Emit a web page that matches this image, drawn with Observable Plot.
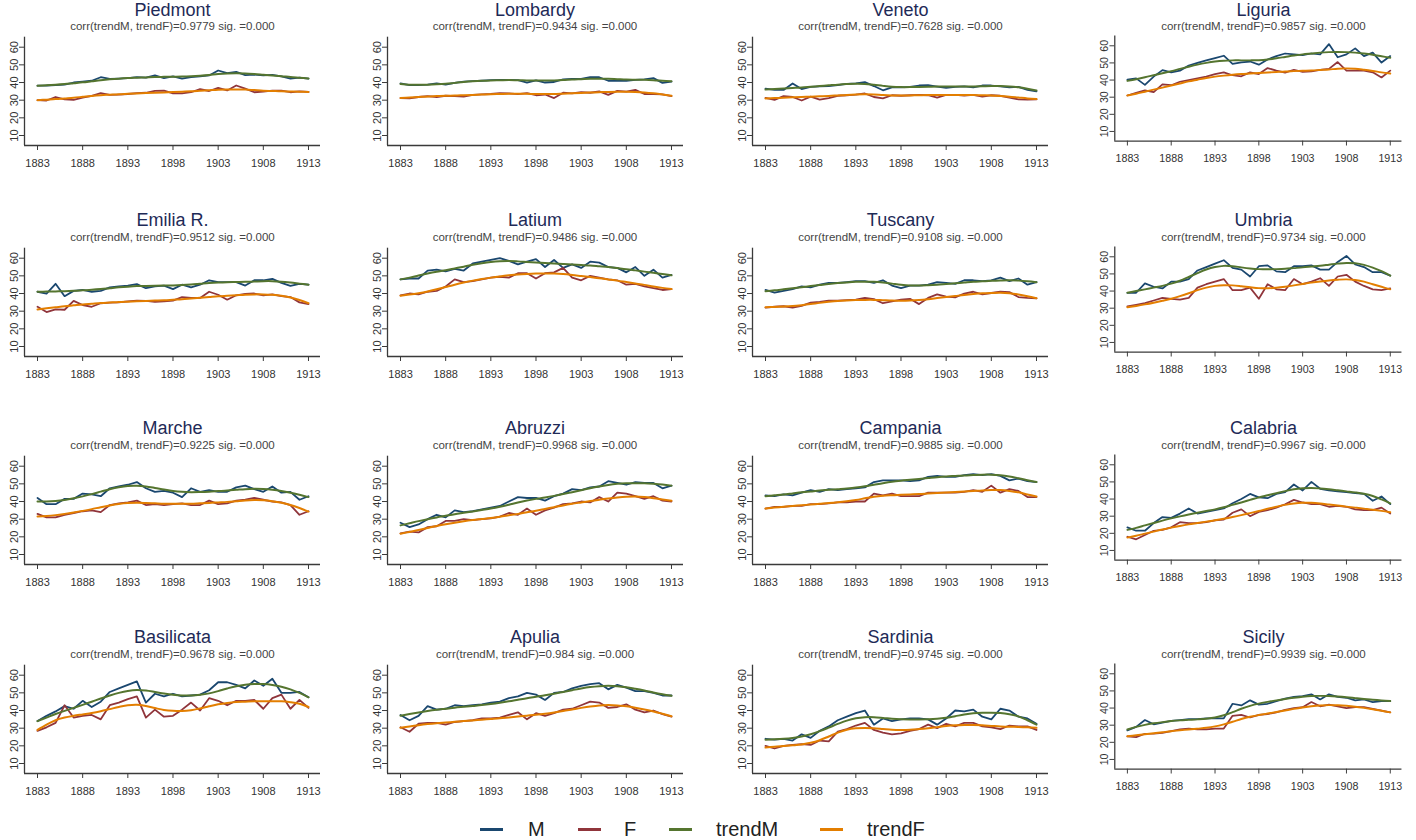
<!DOCTYPE html>
<html><head><meta charset="utf-8">
<script src="https://cdn.jsdelivr.net/npm/d3@7"></script>
<script src="https://cdn.jsdelivr.net/npm/@observablehq/plot@0.6"></script>
<style>
body{margin:0;background:#fff;font-family:"Liberation Sans",Arial,Helvetica,sans-serif}
#root{position:relative;width:1416px;height:840px;overflow:hidden;background:#fff}
.title{position:absolute;text-align:center;font-size:18px;line-height:20px;color:#1e2a57;white-space:nowrap}
.sub{position:absolute;text-align:center;font-size:11.5px;line-height:11.5px;color:#444;white-space:nowrap}
.panel{position:absolute}
.sw{position:absolute;height:3px}
.lt{position:absolute;font-size:20px;line-height:20px;color:#222;white-space:nowrap}
</style></head><body><div id="root"></div><script>
const years = [1883,1884,1885,1886,1887,1888,1889,1890,1891,1892,1893,1894,1895,1896,1897,1898,1899,1900,1901,1902,1903,1904,1905,1906,1907,1908,1909,1910,1911,1912,1913];
const xTicks = [1883,1888,1893,1898,1903,1908,1913];
const yTicks = [10,20,30,40,50,60];
const seriesNames = ["M","F","trendM","trendF"];
const seriesColors = ["#1a476f","#90353b","#55752f","#e37e00"];
const regions = ["Piedmont","Lombardy","Veneto","Liguria","Emilia R.","Latium","Tuscany","Umbria","Marche","Abruzzi","Campania","Calabria","Basilicata","Apulia","Sardinia","Sicily"];
const correlations = ["0.9779","0.9434","0.7628","0.9857","0.9512","0.9486","0.9108","0.9734","0.9225","0.9968","0.9885","0.9967","0.9678","0.984","0.9745","0.9939"];

const piedmontM = [38.2,38.3,38.6,38.8,40,40.5,41,43,42,42.2,42.5,43,42.8,44,42.5,43.5,42.2,43,43.5,44,46.8,45.3,46,44.2,44.5,44,44.3,43.5,42.2,42.8,42.2];
const piedmontF = [30,29.8,31.8,30.5,30.2,31.5,32.5,34,33,33.2,33.5,34,34.2,35.3,35.4,33.8,33.8,34.5,36.3,35.2,37,35.5,38.3,36.5,34.5,34.8,35.4,35.4,34.5,35,34.7];
const piedmontTrendM = [38.2,38.4,38.7,39.1,39.6,40.1,40.7,41.3,41.8,42.2,42.5,42.7,42.9,43.1,43.2,43.3,43.4,43.6,43.9,44.3,44.8,45.1,45.2,45.1,44.8,44.4,44,43.6,43.1,42.7,42.3];
const piedmontTrendF = [30,30.3,30.6,31,31.4,31.9,32.4,32.8,33.1,33.4,33.6,33.8,34,34.2,34.4,34.6,34.8,35,35.3,35.6,35.9,36.1,36.1,36,35.7,35.4,35.2,35,34.9,34.8,34.7];

const lombardyM = [39.5,38.5,38.6,38.8,39.5,38.8,39.8,40.5,40.8,41,41.3,41.5,41.5,41.3,40,41.2,40,40.3,41.8,42,42,43,43,41,41,41,41.5,41.8,42.5,39.8,40.5];
const lombardyF = [31.2,31,31.8,32.3,31.8,32.5,32.3,32,33,33.3,33.5,34,33.8,33.4,34,32.8,33.2,31.2,34.2,33.8,34.6,34.2,35,33,35.3,34.8,35.8,33.5,33.5,33.3,32.3];
const lombardyTrendM = [39.2,38.8,38.7,38.8,39,39.3,39.8,40.3,40.7,41,41.2,41.3,41.4,41.3,41.2,41.1,41.1,41.2,41.4,41.7,41.9,42.1,42.2,42.1,41.9,41.7,41.6,41.5,41.3,41,40.7];
const lombardyTrendF = [31.2,31.5,31.8,32.1,32.3,32.5,32.6,32.8,33,33.2,33.4,33.5,33.6,33.6,33.6,33.5,33.5,33.5,33.7,33.9,34.1,34.3,34.5,34.7,34.8,34.8,34.7,34.4,33.9,33.2,32.5];

const venetoM = [36.5,35.8,35.8,39.5,36.3,37.5,37.8,38,38.5,39.2,39.5,40.2,38,35.6,37.2,37.3,37.5,38.3,38.5,37.7,37,37.5,37.8,37.2,38.3,38.3,37.8,37.2,37.5,35.8,35];
const venetoF = [31.3,30.2,32.3,31.8,29.8,32,30.3,31.2,32.5,32.8,33.2,33.8,31.8,31,32.8,32.5,32.8,33,32.8,31.5,33,33,32.6,33,32,32.8,32.5,31.5,30.5,30.3,30.5];
const venetoTrendM = [36,36.3,36.6,36.9,37.2,37.6,38,38.4,38.8,39.1,39.3,39.2,38.7,38.1,37.6,37.4,37.4,37.5,37.6,37.7,37.7,37.7,37.7,37.8,37.9,38,38,37.8,37.3,36.5,35.5];
const venetoTrendF = [31,31.2,31.4,31.6,31.8,32,32.2,32.4,32.7,33,33.2,33.3,33.2,32.9,32.7,32.6,32.7,32.8,32.9,32.9,32.9,32.9,32.9,32.9,32.8,32.7,32.4,32,31.5,31,30.6];

const liguriaM = [40.3,41,37.2,42,45.8,44.5,45.5,48.5,50,51.5,52.8,54.2,49.5,50.3,50.8,49,52,54,55.5,55,54.5,55.5,55,61,53.3,55,58.5,54,56,50.2,54];
const liguriaF = [31,32.5,34,33,37.5,37,39,40,41,42,43.5,44.5,42.8,42.2,44.5,43.5,47,45.5,44.3,46,44.8,45,46,46.5,50.5,45.5,45.5,45.5,44.5,41.5,45.5];
const liguriaTrendM = [39.5,40.5,41.6,42.8,44,45.2,46.5,47.8,49,50,50.8,51.3,51.5,51.5,51.5,51.6,52,52.7,53.5,54.3,55,55.5,56,56.3,56.4,56.3,56,55.5,54.8,53.9,53];
const liguriaTrendF = [31,32,33.2,34.4,35.6,36.8,38,39.2,40.2,41.2,42,42.6,43.1,43.5,43.8,44.1,44.4,44.7,45,45.2,45.4,45.6,45.9,46.2,46.6,46.8,46.6,46,45.3,44.5,43.8];

const emiliaM = [41,40,45.5,38.5,41.5,42,41,41.5,43.5,44,44.5,45.3,43,44,44.5,42.5,45,43.5,45,47.5,46.5,46.5,46.5,44.5,47.5,47.5,48.3,46,44.3,45.5,45];
const emiliaF = [32.5,29.5,31,30.8,35.8,33.5,32.5,34.5,34.8,35,35.5,36,35.8,35.3,35.5,36,38,37.5,37.5,41,39.3,36.5,39,39.8,40,39,39.5,38.5,38,35,34];
const emiliaTrendM = [41,41.1,41.2,41.3,41.5,41.8,42.1,42.5,43,43.5,43.9,44.2,44.3,44.4,44.5,44.6,44.8,45.1,45.5,45.9,46.2,46.4,46.5,46.6,46.8,47,47,46.7,46.2,45.6,45];
const emiliaTrendF = [31,31.6,32.2,32.8,33.3,33.8,34.2,34.6,34.9,35.2,35.4,35.6,35.8,36,36.2,36.5,36.8,37.2,37.6,38,38.4,38.7,39,39.3,39.5,39.5,39.3,38.8,37.8,36.3,34.5];

const latiumM = [48,48.5,48.5,53,53.5,52.5,54,53,57,58,59,60,58.5,56.5,58,59.5,55,59,54.5,56.5,54.5,58,57.5,55,54.5,52,55,50,53.5,49,50.5];
const latiumF = [39,40,39.5,41,41.5,44,48,46.5,47,48,49,49.5,49,51.5,51.5,48.5,51.5,52,54.5,49,47.5,50,49,48,47.5,45,45.5,44,43,42,42.5];
const latiumTrendM = [48,49,50.2,51.3,52.3,53.2,54.2,55.2,56.3,57.2,57.9,58.3,58.4,58.2,57.9,57.6,57.3,57,56.7,56.4,56.1,55.8,55.4,55,54.4,53.8,53.1,52.4,51.7,51,50.3];
const latiumTrendF = [38.8,39.4,40.2,41.2,42.4,43.7,45,46.2,47.3,48.2,49,49.7,50.3,50.8,51.1,51.3,51.4,51.3,51,50.5,49.9,49.3,48.7,48,47.3,46.5,45.7,44.9,44,43.2,42.5];

const tuscanyM = [42,40.5,41.5,42.5,44,43.5,45,46,46,46.5,47,47,46,47.5,44.5,43,44.5,44.5,45,46.5,46,45.5,47.5,47.5,47,47.5,49,47,48.5,45,46.5];
const tuscanyF = [32,32.5,32.8,32,33,34.8,35.3,36,36,36.3,36.5,37.5,36.8,34.5,35.5,36.5,37,34,37.5,39.5,38.3,37.8,40,41,39.5,40.3,41,40.8,38,37.5,37.3];
const tuscanyTrendM = [41.3,41.8,42.4,43,43.6,44.2,44.8,45.4,45.9,46.3,46.6,46.7,46.6,46.2,45.6,45,44.6,44.5,44.7,45,45.4,45.8,46.2,46.6,46.9,47.2,47.4,47.5,47.3,46.9,46.4];
const tuscanyTrendF = [32.2,32.4,32.6,32.9,33.4,34,34.7,35.3,35.8,36.1,36.3,36.4,36.4,36.2,36,35.9,36,36.3,36.8,37.4,38,38.6,39.2,39.7,40.1,40.3,40.4,40.2,39.5,38.5,37.3];

const umbriaM = [39,39,44.5,42.5,41.5,45.5,45.5,47,52,54,56,58,53.5,52.5,48.5,54.5,55,51.5,51,54.5,54.5,55,52.5,52.5,57,60.5,55.5,54,51,51,49];
const umbriaF = [31,32,33,34.5,36,35.5,35,36,42,44,45.5,47,40.5,40.5,42,35.5,44,41,40.5,47,44,45.5,47.5,43,48.5,49.5,45.5,43,41,40.5,41.5];
const umbriaTrendM = [39,40,41,42,43,44.3,46,48.2,50.5,52.6,54,54.7,54.5,53.8,53.2,52.8,52.7,52.8,53,53.4,53.8,54.3,54.8,55.4,56,56.4,56.2,55.3,53.7,51.6,49];
const umbriaTrendF = [30.5,31.3,32.2,33.2,34.3,35.5,37,38.7,40.5,42,43,43.4,43.3,42.8,42.2,41.7,41.6,41.9,42.5,43.3,44.1,44.9,45.6,46.2,46.6,46.8,46.4,45.5,44,42.5,41];

const marcheM = [42,38.5,38.5,41.5,41.5,44.5,44,43,47.5,48.5,49.5,51,47.5,45.5,46,45,42.5,47.5,45.5,46.5,45.5,45.5,48,49,47,45.5,48.5,45,45.5,41,43];
const marcheF = [33,31,31,32.5,33.5,34.5,35,34,38,39,39.5,40.5,38,38.5,38,38.5,39,38,38,40.5,38.5,39,40.5,41,42,41,40,39.5,38,32.5,34.5];
const marcheTrendM = [40,40,40.3,40.9,41.8,42.9,44.2,45.6,47,48.1,48.8,48.9,48.5,47.7,46.8,46,45.5,45.3,45.4,45.6,45.9,46.2,46.6,47,47.2,47.1,46.7,46,45,43.8,42.5];
const marcheTrendF = [31.5,31.8,32.3,33,33.8,34.7,35.7,36.8,37.8,38.6,39.1,39.3,39.2,39,38.8,38.7,38.7,38.8,39,39.2,39.5,39.8,40.2,40.6,40.8,40.7,40.2,39.3,38,36.3,34.3];

const abruzziM = [28,25.5,27,30,32.5,31,35,34,34.5,35.5,36.5,37.5,40,42.5,42,42,40.5,43,44.5,47,46.5,48,48.5,51.5,50.5,49.5,51,50.5,50.5,47.5,49];
const abruzziF = [22,23,22.5,25.5,26,29,29,30,29.5,30,30.5,31.5,33.5,32.5,36,32.5,35,36.5,38.5,39,40,39.5,42.5,40,45,44.5,43,41.5,43,40.5,40];
const abruzziTrendM = [26.5,27.7,28.9,30,31,31.9,32.8,33.6,34.4,35.2,36,37,38.2,39.5,40.6,41.5,42.3,43.2,44.2,45.3,46.4,47.5,48.5,49.4,50,50.3,50.4,50.3,50,49.6,49];
const abruzziTrendF = [21.8,22.8,23.9,25,26.1,27.1,28,28.8,29.5,30.1,30.7,31.4,32.2,33,33.9,34.8,35.8,36.8,37.8,38.7,39.5,40.3,41,41.7,42.3,42.7,42.8,42.5,41.9,41.2,40.5];

const campaniaM = [43.5,43,44,43.5,45,46.5,45.5,47,46.5,47,47.5,48,51,52,52,52,51.5,52,54,54.5,54,54,55,55.5,55,55.5,54.5,52,53,51.5,51];
const campaniaF = [36,37,37,37.5,37.5,38.5,38.5,39,39.5,39.5,40,40,44.5,43.5,44.5,43,43,43,45,45,45,45,45.5,46.5,45.5,49,45,47,46,42.5,42.5];
const campaniaTrendM = [43,43.5,44,44.6,45.2,45.7,46.2,46.6,47,47.4,47.9,48.6,49.5,50.4,51.2,51.8,52.3,52.8,53.3,53.8,54.2,54.5,54.8,55,55.2,55.2,54.9,54.2,53.2,52.1,51];
const campaniaTrendF = [36,36.6,37.1,37.5,37.9,38.3,38.7,39.1,39.6,40.2,40.9,41.8,42.7,43.3,43.6,43.8,44,44.2,44.5,44.8,45.1,45.4,45.7,46,46.3,46.5,46.5,46,45.2,44,42.8];

const calabriaM = [23.5,21.5,21.5,26,29.5,29,31.5,34.5,31.5,32.5,33.5,34.5,37.5,40,43,41,40.5,43,44,48.5,45,50,46,45,44.5,44,43.5,43,39,41.5,37];
const calabriaF = [18,16.5,19,21.5,22,23.5,26.5,26,26,26.5,27.5,28,32,34,30,32.5,33.5,35,37,39.5,38,37,37,35.5,36,35.5,34,33.5,33.5,35,31.5];
const calabriaTrendM = [22,23.2,24.6,26,27.4,28.7,29.9,31,32,33,34,35.2,36.6,38,39.5,41,42.2,43.4,44.6,45.7,46.3,46.5,46.2,45.7,45.1,44.5,43.9,43.1,41.8,39.8,37.5];
const calabriaTrendF = [17.5,18.6,19.8,21,22.2,23.3,24.3,25.2,26,26.8,27.6,28.5,29.5,30.6,31.8,33,34.3,35.5,36.6,37.4,37.8,37.8,37.4,36.8,36.2,35.6,35,34.4,33.8,33.1,32.3];

const basilicataM = [34,37,39.5,42.5,41,45.5,42,45,50.5,52.5,54.5,56.5,44.5,49.5,48,49.5,48,48.5,49,51.5,56,56,54.5,52.5,57,54,58,50,50,50.5,47.5];
const basilicataF = [28.5,30.5,33,43,36,37,37.5,35,43,44.5,46.5,48,36,40.5,36.5,37,40.5,44.5,40,47,45.5,43,45.5,45.5,46,41,47,49,41,46,41.5];
const basilicataTrendM = [34,36,38,39.8,41.5,43.2,45,46.8,48.5,50,51.1,51.6,51.3,50.5,49.6,48.9,48.5,48.5,48.9,49.7,51,52.5,53.8,54.6,55,55,54.5,53.5,52,50,47.5];
const basilicataTrendF = [29,32,34.5,36,37,37.8,38.6,39.6,40.8,42,43,43.3,42.6,41.4,40.3,39.8,39.7,40.2,41.2,42.4,43.5,44.3,44.8,45,45.2,45.3,45.3,45.2,44.7,43.8,42];

const apuliaM = [37.5,34.5,37,42.5,40.5,41,43,42.5,43,43.5,44.5,45,47,48,50,49,46,50,50.5,52.5,54,55,55.5,52,54.5,53,51,51,50,48.5,48.5];
const apuliaF = [30.5,28,32.5,33,33,32,33.5,34,34.5,35.5,35.5,36,37.5,39,35,38.5,37,38.5,40.5,41,43,45,44.5,41.5,42,43.5,40.5,39,40,38,36.5];
const apuliaTrendM = [37,38,38.9,39.7,40.4,41,41.6,42.1,42.6,43.1,43.7,44.4,45.2,46.1,47,47.8,48.6,49.5,50.5,51.5,52.5,53.3,53.8,54,53.8,53.2,52.3,51.3,50.2,49.2,48.3];
const apuliaTrendF = [30.2,31,31.7,32.3,32.8,33.2,33.6,34,34.4,34.8,35.2,35.6,36.1,36.6,37.1,37.6,38.2,38.9,39.7,40.6,41.5,42.3,42.9,43.1,42.9,42.4,41.6,40.6,39.5,38.2,36.8];

const sardiniaM = [24,23.5,24,23,26.5,24.5,28.5,31,34.5,36.5,38.5,40,32,35.5,34,35,35.5,35.5,35,32,35.5,40,39.5,40.5,36.5,35,41,40,36.5,35.5,32.5];
const sardiniaF = [20,18.5,20,20.5,21,20.5,23,22.5,28,29.5,31.5,33,29,27.5,26.5,27,28.5,29.5,32,30,32.5,31,33,33,31,30.5,29.5,31.5,31,31,29];
const sardiniaTrendM = [23.5,23.7,24,24.5,25.3,26.6,28.3,30.3,32.4,34.3,35.6,36.2,36.2,35.8,35.3,35,34.9,34.9,35,35.3,35.9,36.8,37.7,38.4,38.7,38.8,38.6,37.9,36.7,34.5,32];
const sardiniaTrendF = [19,19.5,19.9,20.3,20.8,21.7,23.2,25.3,27.5,29.1,29.9,30.1,29.9,29.5,29.1,29,29.1,29.5,30,30.6,31.2,31.6,31.8,31.8,31.6,31.3,31,30.8,30.7,30.5,30.2];

const sicilyM = [27,29,33,30.5,31.5,32.5,33,33.5,33.5,34,34,34,42.5,41.5,44.5,42,42.5,44,45.5,46.5,47,48,45,48,46.5,46,44.5,45,43.5,44,44];
const sicilyF = [23.5,23,25,25,25.5,26.5,27.5,28,27.5,27.5,28,28,35.5,36,34.5,36,36.5,37.5,39,40,40.5,43.5,41,42,41,40,40.5,40.5,39.5,38.5,37.5];
const sicilyTrendM = [27.5,29,30.2,31.1,31.8,32.4,32.8,33.1,33.4,33.8,34.5,35.8,37.6,39.6,41.3,42.6,43.6,44.5,45.3,46,46.6,47,47.1,47,46.7,46.3,45.8,45.3,44.8,44.4,44.1];
const sicilyTrendF = [23.5,24.1,24.7,25.3,25.9,26.5,27,27.5,28,28.5,29.3,30.5,32,33.6,34.9,35.9,36.8,37.7,38.6,39.5,40.3,41,41.5,41.7,41.6,41.3,40.8,40.1,39.3,38.4,37.5];

const regionSeries = [
  [piedmontM, piedmontF, piedmontTrendM, piedmontTrendF],
  [lombardyM, lombardyF, lombardyTrendM, lombardyTrendF],
  [venetoM, venetoF, venetoTrendM, venetoTrendF],
  [liguriaM, liguriaF, liguriaTrendM, liguriaTrendF],
  [emiliaM, emiliaF, emiliaTrendM, emiliaTrendF],
  [latiumM, latiumF, latiumTrendM, latiumTrendF],
  [tuscanyM, tuscanyF, tuscanyTrendM, tuscanyTrendF],
  [umbriaM, umbriaF, umbriaTrendM, umbriaTrendF],
  [marcheM, marcheF, marcheTrendM, marcheTrendF],
  [abruzziM, abruzziF, abruzziTrendM, abruzziTrendF],
  [campaniaM, campaniaF, campaniaTrendM, campaniaTrendF],
  [calabriaM, calabriaF, calabriaTrendM, calabriaTrendF],
  [basilicataM, basilicataF, basilicataTrendM, basilicataTrendF],
  [apuliaM, apuliaF, apuliaTrendM, apuliaTrendF],
  [sardiniaM, sardiniaF, sardiniaTrendM, sardiniaTrendF],
  [sicilyM, sicilyF, sicilyTrendM, sicilyTrendF]
];

const root = document.getElementById("root");
const colX = [0, 362.5, 728, 1091];
const rowY = [0, 210.5, 418.5, 627.5];
const xDom = [1881.56, 1914.33];
const yDom = [4.34, 65.66];

regions.forEach((name, idx) => {
  const c = idx % 4, r = Math.floor(idx / 4);
  const left = colX[c], top = rowY[r];
  const t = document.createElement("div");
  t.className = "title";
  t.style.left = left + "px"; t.style.top = Math.max(0, top - 1) + "px"; t.style.width = "345px";
  t.textContent = name;
  root.appendChild(t);
  const s = document.createElement("div");
  s.className = "sub";
  s.style.left = left + "px"; s.style.top = (top + 21) + "px"; s.style.width = "345px";
  s.textContent = `corr(trendM, trendF)=${correlations[idx]} sig. =0.000`;
  root.appendChild(s);

  const arrs = regionSeries[idx];
  const data = [];
  seriesNames.forEach((sn, j) => {
    years.forEach((yr, i) => data.push({year: yr, value: arrs[j][i], series: sn}));
  });

  const chart = Plot.plot({
    width: 335, height: 175,
    marginLeft: 24, marginRight: 15, marginTop: 36.7, marginBottom: 30,
    x: {domain: xDom, label: null},
    y: {domain: yDom, label: null},
    color: {domain: seriesNames, range: seriesColors},
    style: {fontFamily: '"Liberation Sans", Arial, sans-serif', fontSize: "11px", color: "#333", background: "transparent", overflow: "visible"},
    marks: [
      Plot.ruleX([xDom[0]], {stroke: "#3a3a3a", strokeWidth: 1.3}),
      Plot.ruleY([yDom[0]], {stroke: "#3a3a3a", strokeWidth: 1.3}),
      Plot.axisY({ticks: yTicks, tickSize: 5, tickRotate: -90, tickPadding: 1.5, label: null, stroke: "#3a3a3a"}),
      Plot.axisX({ticks: xTicks, tickFormat: d => String(d), tickSize: 5, tickPadding: 9, label: null, stroke: "#3a3a3a"}),
      ...seriesNames.map(sn => Plot.line(data.filter(d => d.series === sn), {
        x: "year", y: "value", stroke: "series",
        strokeWidth: sn.startsWith("trend") ? 2 : 1.8,
        curve: sn.startsWith("trend") ? "catmull-rom" : "linear"
      }))
    ]
  });
  const wrap = document.createElement("div");
  wrap.className = "panel";
  wrap.style.left = left + "px"; wrap.style.top = top + "px";
  wrap.appendChild(chart);
  root.appendChild(wrap);
});

// legend
const legendItems = [
  {name: "M", sw: 480, tx: 528},
  {name: "F", sw: 578, tx: 624},
  {name: "trendM", sw: 669, tx: 716},
  {name: "trendF", sw: 820, tx: 867}
];
legendItems.forEach((it, i) => {
  const sw = document.createElement("div");
  sw.className = "sw";
  sw.style.left = it.sw + "px"; sw.style.top = "827.5px"; sw.style.width = "23px";
  sw.style.background = seriesColors[i];
  root.appendChild(sw);
  const tx = document.createElement("div");
  tx.className = "lt";
  tx.style.left = it.tx + "px"; tx.style.top = "819px";
  tx.textContent = it.name;
  root.appendChild(tx);
});
</script></body></html>
